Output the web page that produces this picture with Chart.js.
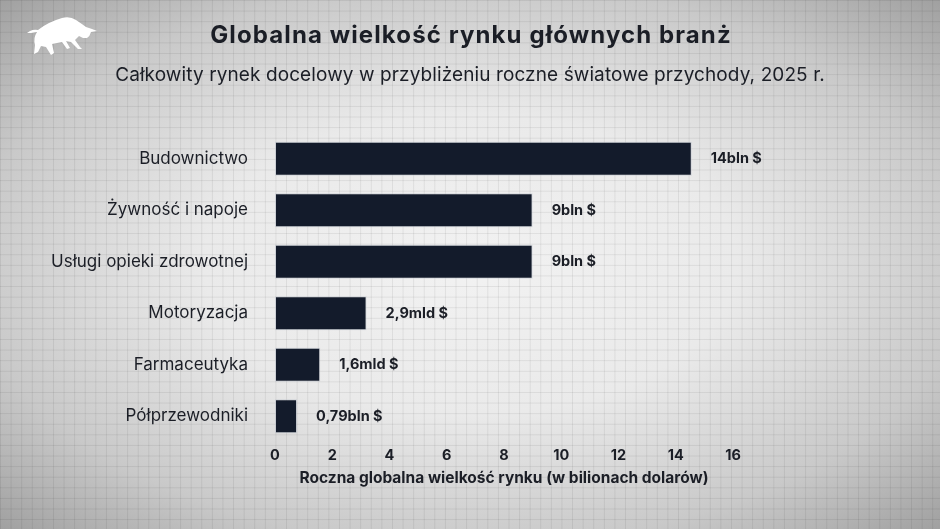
<!DOCTYPE html>
<html>
<head>
<meta charset="utf-8">
<script src="https://cdn.jsdelivr.net/npm/chart.js@4.4.1/dist/chart.umd.min.js"></script>
<style>
  html, body {
    margin: 0;
    padding: 0;
    width: 940px;
    height: 529px;
    overflow: hidden;
  }
  body {
    background-image:
      linear-gradient(rgba(0, 0, 0, 0.07) 1px, transparent 1px),
      linear-gradient(90deg, rgba(0, 0, 0, 0.07) 1px, transparent 1px),
      radial-gradient(ellipse at 50% 50%, #f2f2f2 0%, #eaeaea 40%, #c9c9c9 75%, #a0a0a0 100%);
    background-size: 10.6px 10.6px, 10.6px 10.6px, 100% 100%;
  }
  canvas { display: block; }
</style>
</head>
<body>
<canvas id="market_size" width="940" height="529"></canvas>
<script>
const FONT = 'Inter, "Noto Sans", sans-serif';
const TEXT_COLOR = '#1b1e26';

const categories = [
  'Budownictwo',
  'Żywność i napoje',
  'Usługi opieki zdrowotnej',
  'Motoryzacja',
  'Farmaceutyka',
  'Półprzewodniki'
];
// bar lengths as drawn (in trillions of dollars)
const values = [14.56, 9, 9, 3.2, 1.58, 0.77];
// labels printed next to the bars
const valueLabels = ['14bln $', '9bln $', '9bln $', '2,9mld $', '1,6mld $', '0,79bln $'];

const titleText = 'Globalna wielkość rynku głównych branż';
const subtitleText = 'Całkowity rynek docelowy w przybliżeniu roczne światowe przychody, 2025 r.';
const axisTitle = 'Roczna globalna wielkość rynku (w bilionach dolarów)';

// headings + logo drawn straight on the canvas
const headerPlugin = {
  id: 'header',
  afterDraw(chart) {
    const ctx = chart.ctx;
    ctx.save();
    ctx.fillStyle = TEXT_COLOR;
    ctx.textAlign = 'center';
    ctx.textBaseline = 'middle';
    ctx.letterSpacing = '1.1px';
    ctx.font = '700 24px ' + FONT;
    ctx.fillText(titleText, 471, 36);
    ctx.letterSpacing = '0.1px';
    ctx.font = '400 19px ' + FONT;
    ctx.fillText(subtitleText, 470, 75);
    ctx.letterSpacing = '0px';

    // bull logo
    ctx.fillStyle = '#ffffff';
    ctx.beginPath();
    ctx.moveTo(27, 33);
    ctx.lineTo(30, 31);
    ctx.quadraticCurveTo(34, 29, 38, 30);
    ctx.quadraticCurveTo(48, 22, 62, 18);
    ctx.quadraticCurveTo(70, 16, 76, 20);
    ctx.quadraticCurveTo(82, 24, 86, 27);
    ctx.lineTo(92, 29);
    ctx.lineTo(97, 31);
    ctx.lineTo(91, 32);
    ctx.quadraticCurveTo(90, 36, 87, 38);
    ctx.lineTo(83, 38);
    ctx.lineTo(79, 36);
    ctx.lineTo(75, 40);
    ctx.lineTo(80, 47);
    ctx.lineTo(82, 49);
    ctx.lineTo(78, 49);
    ctx.lineTo(71, 42);
    ctx.lineTo(66, 41);
    ctx.lineTo(70, 48);
    ctx.lineTo(67, 49);
    ctx.lineTo(62, 42);
    ctx.lineTo(52, 44);
    ctx.lineTo(54, 53);
    ctx.lineTo(51, 55);
    ctx.lineTo(46, 47);
    ctx.lineTo(41, 46);
    ctx.lineTo(38, 52);
    ctx.lineTo(34, 54);
    ctx.lineTo(35, 45);
    ctx.quadraticCurveTo(33, 38, 37, 32);
    ctx.lineTo(31, 33);
    ctx.closePath();
    ctx.fill();
    ctx.restore();
  }
};

// value text to the right of every bar
const valueLabelPlugin = {
  id: 'valueLabels',
  afterDatasetsDraw(chart) {
    const ctx = chart.ctx;
    const meta = chart.getDatasetMeta(0);
    ctx.save();
    ctx.fillStyle = TEXT_COLOR;
    ctx.font = '700 14.5px ' + FONT;
    ctx.textAlign = 'left';
    ctx.textBaseline = 'middle';
    meta.data.forEach((bar, i) => {
      ctx.fillText(valueLabels[i], bar.x + 19, bar.y);
    });
    ctx.restore();
  }
};

const chart = new Chart('market_size', {
  type: 'bar',
  data: {
    labels: categories,
    datasets: [
      {
        data: values,
        backgroundColor: '#131b2b',
        borderColor: 'rgba(190, 195, 205, 0.6)',
        borderWidth: 1,
        borderSkipped: false,
        barPercentage: 0.66,
        categoryPercentage: 1,
      },
    ],
  },
  options: {
    indexAxis: 'y',
    responsive: false,
    animation: false,
    layout: {
      padding: { top: 133, right: 207, bottom: 39, left: 0 },
    },
    scales: {
      x: {
        min: 0,
        max: 16,
        grid: { display: false, drawTicks: false },
        border: { display: false },
        ticks: {
          stepSize: 2,
          padding: 5,
          color: TEXT_COLOR,
          font: { family: FONT, size: 14.5, weight: '700' },
        },
        title: {
          display: true,
          text: axisTitle,
          color: TEXT_COLOR,
          font: { family: FONT, size: 15.5, weight: '700' },
          padding: { top: 0, bottom: 2 },
        },
      },
      y: {
        grid: { display: false, drawTicks: false },
        border: { display: false },
        ticks: {
          padding: 27,
          color: TEXT_COLOR,
          font: { family: FONT, size: 17 },
        },
        afterFit(scale) {
          scale.width = 275;
        },
      },
    },
    plugins: {
      legend: { display: false },
      tooltip: { enabled: false },
    },
  },
  plugins: [headerPlugin, valueLabelPlugin],
});
</script>
</body>
</html>
